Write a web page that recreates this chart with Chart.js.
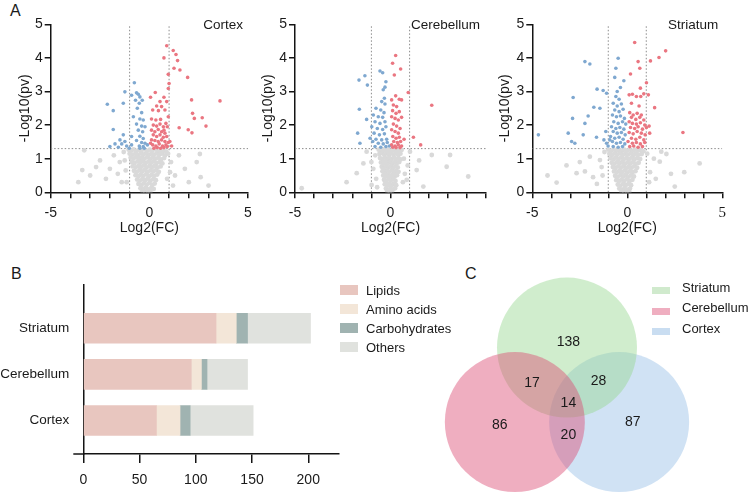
<!DOCTYPE html>
<html>
<head>
<meta charset="utf-8">
<script src="https://cdn.jsdelivr.net/npm/chart.js@4.4.1/dist/chart.umd.min.js"></script>
<style>
  body { margin: 0; width: 752px; height: 495px; background: #fff; position: relative; overflow: hidden;
         font-family: 'Liberation Sans', Arial, sans-serif; color: #1a1a1a; }
  canvas { position: absolute; }
  .panel { position: absolute; font-size: 16px; line-height: 16px; }
  .swatch { position: absolute; width: 18px; }
  .lbl { position: absolute; font-size: 13px; line-height: 15px; white-space: nowrap; }
</style>
</head>
<body>
<div class="panel" style="left:10px;top:3px">A</div>
<div class="panel" style="left:11px;top:266px">B</div>
<div class="panel" style="left:465px;top:266px">C</div>

<canvas id="volcanoCortex" width="260" height="240" style="left:0;top:0"></canvas>
<canvas id="volcanoCerebellum" width="250" height="240" style="left:245px;top:0"></canvas>
<canvas id="volcanoStriatum" width="250" height="240" style="left:482px;top:0"></canvas>
<canvas id="barChart" width="345" height="225" style="left:0;top:270px"></canvas>
<canvas id="vennChart" width="322" height="240" style="left:430px;top:255px"></canvas>

<div id="barLegend"></div>
<div id="vennLegend"></div>

<script>
// === Volcano data: [log2FC, -log10(p)] ===
const cortexUp = [[0.88,4.36],[1.21,4.22],[1.35,4.10],[0.74,4.00],[1.43,3.92],[1.25,3.69],[1.55,3.64],[0.96,3.51],[1.94,3.42],[3.58,2.72],[2.14,2.75],[0.06,2.83],[0.30,2.97],[1.00,3.24],[0.96,3.09],[0.74,2.83],[0.88,2.70],[0.54,2.70],[0.37,2.57],[0.62,2.55],[0.79,2.45],[0.17,2.45],[0.46,2.43],[0.96,2.25],[0.11,2.18],[0.33,2.15],[0.57,2.17],[2.19,2.35],[2.28,2.20],[2.68,2.22],[2.87,1.97],[1.51,1.92],[2.16,1.77],[1.97,1.86],[0.91,1.95],[0.74,1.85],
  [0.20,2.00],[0.37,1.97],[0.54,2.03],[0.71,1.95],[0.84,2.05],[0.11,1.85],[0.28,1.80],[0.45,1.87],[0.62,1.80],[0.79,1.76],[0.20,1.71],[0.37,1.66],[0.54,1.71],[0.71,1.64],[0.88,1.66],[0.11,1.56],[0.28,1.54],[0.45,1.51],[0.62,1.56],[0.79,1.51],[0.96,1.48],[0.17,1.41],[0.33,1.38],[0.50,1.44],[0.67,1.38],[0.84,1.41],[0.06,1.46],[0.23,1.31],[0.40,1.33],[0.57,1.31],[0.74,1.33],[0.91,1.36],[1.13,1.38],[1.04,1.51]];
const cortexDown = [[-0.76,3.26],[-1.24,2.99],[-0.90,2.89],[-0.65,2.96],[-0.56,2.92],[-0.48,2.84],[-2.13,2.62],[-1.32,2.65],[-0.70,2.74],[-0.51,2.65],[-0.36,2.74],[-1.83,2.43],[-0.61,2.50],[-0.39,2.37],[-0.81,2.25],[-0.48,2.18],[-0.31,2.15],[-1.83,1.87],[-0.65,2.03],[-0.39,1.97],[-0.22,1.95],[-0.56,1.85],[-0.34,1.80],[-1.32,1.71],[-0.90,1.66],[-0.48,1.67],[-0.31,1.60],[-1.49,1.56],[-0.65,1.54],[-0.39,1.48],[-0.22,1.46],[-1.74,1.44],[-1.40,1.44],[-1.15,1.38],[-0.90,1.41],[-0.51,1.38],[-0.31,1.36],[-0.10,1.41],[-1.57,1.34],[-1.02,1.31],[-0.48,1.31],[-0.26,1.31],[-2.0,1.36],[-1.24,1.51]];
const cortexGrey = [[-1.05,1.27],[-0.92,1.24],[-0.8,1.28],[-0.66,1.22],[-0.52,1.27],[-0.4,1.25],[-0.27,1.28],[-0.12,1.23],[0.02,1.27],[0.15,1.24],[0.3,1.28],[0.44,1.22],[0.58,1.26],[0.72,1.24],[0.86,1.21],
  [-1.0,1.15],[-0.85,1.12],[-0.7,1.16],[-0.56,1.11],[-0.43,1.17],[-0.3,1.13],[-0.16,1.16],[-0.03,1.11],[0.1,1.15],[0.23,1.12],[0.37,1.16],[0.5,1.12],[0.64,1.15],[0.8,1.1],
  [-0.95,1.03],[-0.8,1.0],[-0.66,1.05],[-0.52,0.99],[-0.38,1.04],[-0.24,1.0],[-0.1,1.05],[0.04,0.99],[0.18,1.04],[0.32,1.0],[0.46,1.03],[0.6,0.98],[0.75,1.02],
  [-0.9,0.9],[-0.75,0.87],[-0.6,0.92],[-0.46,0.88],[-0.33,0.93],[-0.19,0.87],[-0.05,0.91],[0.09,0.88],[0.23,0.92],[0.37,0.87],[0.52,0.9],[0.66,0.86],
  [-0.85,0.77],[-0.7,0.74],[-0.55,0.79],[-0.42,0.75],[-0.28,0.8],[-0.14,0.74],[0.0,0.78],[0.14,0.75],[0.28,0.79],[0.42,0.74],[0.57,0.77],
  [-0.78,0.64],[-0.63,0.61],[-0.5,0.66],[-0.36,0.62],[-0.22,0.67],[-0.08,0.61],[0.06,0.65],[0.2,0.62],[0.34,0.66],[0.48,0.61],
  [-0.7,0.51],[-0.56,0.48],[-0.43,0.53],[-0.3,0.49],[-0.16,0.54],[-0.02,0.48],[0.12,0.52],[0.26,0.49],[0.4,0.53],
  [-0.62,0.38],[-0.48,0.35],[-0.35,0.4],[-0.22,0.36],[-0.08,0.41],[0.06,0.35],[0.2,0.39],[0.33,0.36],
  [-0.55,0.25],[-0.4,0.22],[-0.27,0.27],[-0.13,0.23],[0.0,0.28],[0.14,0.22],[0.27,0.26],
  [-0.45,0.12],[-0.3,0.1],[-0.17,0.14],[-0.03,0.09],[0.1,0.13],[0.22,0.1],
  [-0.35,0.03],[-0.2,0.02],[-0.07,0.04],[0.05,0.02],
  [-3.3,1.25],[-3.4,0.66],[-3.0,0.5],[-2.7,0.75],[-2.5,0.95],[-2.2,0.4],[-2.0,0.7],[-1.8,1.1],[-1.6,0.55],[-1.5,0.9],[-1.4,0.3],[-1.3,1.2],[-1.2,0.65],[-1.25,0.95],[-1.15,0.3],[1.1,0.9],[1.3,0.5],[1.5,1.1],[1.8,0.7],[2.0,0.3],[2.4,0.9],[2.6,0.45],[3.0,0.2],[1.2,0.2],[0.95,1.15],[2.56,1.14],[1.05,0.6],[0.9,0.4],[-3.6,0.3]];

const cerebellumUp = [[0.27,4.07],[0.11,3.84],[0.53,3.67],[0.20,3.49],[0.93,2.97],[2.16,2.59],[0.27,2.87],[0.46,2.77],[0.06,2.75],[0.58,2.75],[0.15,2.60],[0.32,2.55],[0.11,2.43],[0.29,2.35],[0.46,2.40],[0.06,2.25],[0.24,2.20],[0.41,2.15],[0.58,2.23],[0.15,2.03],[0.32,1.97],[0.50,1.90],[0.06,1.86],[0.24,1.81],[0.41,1.76],[0.12,1.66],[0.29,1.61],[0.46,1.64],[0.17,1.51],[0.36,1.48],[0.53,1.51],[0.06,1.41],[0.24,1.38],[0.41,1.41],[0.58,1.38],[0.12,1.34],[0.29,1.33],[0.50,1.33],[1.20,1.64],[1.58,1.41],[0.71,1.58]];
const cerebellumDown = [[-1.65,3.34],[-1.34,3.47],[-1.21,3.19],[-0.55,3.61],[-0.41,3.56],[-0.24,3.29],[-0.29,3.13],[-0.38,3.05],[-0.32,2.80],[-0.46,2.70],[-0.29,2.63],[-1.63,2.47],[-0.76,2.50],[-0.51,2.45],[-0.34,2.37],[-0.90,2.30],[-0.64,2.25],[-0.41,2.23],[-1.25,2.17],[-0.81,2.10],[-0.55,2.05],[-0.29,2.10],[-0.98,1.95],[-0.69,1.90],[-0.41,1.87],[-0.24,1.95],[-1.72,1.76],[-0.86,1.76],[-0.58,1.71],[-0.32,1.74],[-1.07,1.61],[-0.76,1.58],[-0.46,1.56],[-0.20,1.58],[-0.93,1.51],[-0.64,1.46],[-0.38,1.44],[-0.17,1.48],[-1.60,1.46],[-0.81,1.36],[-0.51,1.34],[-0.24,1.36],[-0.06,1.38]];
const cerebellumGrey = [[-0.62,1.27],[-0.5,1.23],[-0.38,1.28],[-0.26,1.24],[-0.14,1.27],[-0.02,1.22],[0.1,1.27],[0.22,1.24],[0.34,1.28],[0.46,1.23],[0.58,1.26],
  [-0.58,1.14],[-0.45,1.17],[-0.33,1.12],[-0.2,1.16],[-0.08,1.11],[0.04,1.16],[0.16,1.12],[0.28,1.17],[0.4,1.12],[0.52,1.15],
  [-0.55,1.02],[-0.42,0.99],[-0.3,1.04],[-0.18,0.98],[-0.06,1.03],[0.06,0.99],[0.18,1.04],[0.3,0.99],[0.42,1.02],[0.54,0.98],
  [-0.5,0.89],[-0.38,0.86],[-0.26,0.91],[-0.14,0.87],[-0.02,0.91],[0.1,0.86],[0.22,0.9],[0.34,0.87],[0.46,0.9],
  [-0.46,0.76],[-0.34,0.73],[-0.22,0.78],[-0.1,0.74],[0.02,0.78],[0.14,0.73],[0.26,0.77],[0.38,0.74],
  [-0.42,0.63],[-0.3,0.6],[-0.18,0.65],[-0.06,0.61],[0.06,0.65],[0.18,0.6],[0.3,0.64],[0.42,0.61],
  [-0.38,0.5],[-0.26,0.47],[-0.14,0.52],[-0.02,0.48],[0.1,0.52],[0.22,0.47],[0.34,0.51],
  [-0.34,0.37],[-0.22,0.34],[-0.1,0.39],[0.02,0.35],[0.14,0.39],[0.26,0.34],
  [-0.3,0.24],[-0.18,0.21],[-0.06,0.26],[0.06,0.22],[0.18,0.25],[0.3,0.21],
  [-0.24,0.11],[-0.12,0.08],[0.0,0.12],[0.12,0.09],[0.24,0.12],
  [-0.16,0.03],[-0.04,0.02],[0.08,0.04],
  [4.07,0.47],[2.94,0.76],[3.12,1.11],[2.16,1.11],[-1.77,0.57],[-1.42,0.86],[-4.65,0.12],[-1.25,1.21],[1.02,1.21],[1.37,0.66],[0.85,0.37],[-0.99,0.22],[1.72,0.17],[-0.8,1.1],[-0.9,0.7],[-0.75,0.4],[0.7,1.0],[0.75,0.55],[0.65,0.3],[-1.0,0.9],[0.9,0.8],[-0.7,0.15],[-2.3,0.3],[1.5,0.95]];

const striatumUp = [[0.39,4.46],[2.02,4.21],[1.67,4.01],[1.22,3.91],[0.57,3.89],[0.66,3.69],[0.17,3.52],[1.01,3.26],[0.69,3.10],[0.87,2.93],[0.10,2.90],[0.27,2.92],[0.48,2.85],[0.71,2.85],[1.11,2.90],[1.44,2.52],[2.93,1.78],[0.22,2.65],[0.62,2.57],
  [0.13,2.37],[0.31,2.30],[0.52,2.35],[0.74,2.30],[0.22,2.23],[0.45,2.17],[0.66,2.23],[0.87,2.15],[0.10,2.10],[0.27,2.05],[0.48,2.03],[0.69,2.07],[0.92,2.00],[0.17,1.93],[0.39,1.90],[0.57,1.95],[0.80,1.88],[1.01,1.93],[0.10,1.78],[0.31,1.74],[0.52,1.81],[0.74,1.76],[0.94,1.71],[0.22,1.61],[0.45,1.58],[0.66,1.64],[0.87,1.56],[0.04,1.51],[0.27,1.46],[0.48,1.48],[0.69,1.44],[0.92,1.48],[0.13,1.36],[0.34,1.38],[0.57,1.34],[0.80,1.36],[1.15,1.97],[1.18,1.76]];
const striatumDown = [[-0.48,3.99],[-2.23,3.89],[-1.97,3.82],[-0.60,3.69],[-0.66,3.42],[-0.18,3.32],[-2.85,2.82],[-1.59,3.07],[-1.27,3.03],[-1.09,2.95],[-0.53,3.00],[-0.36,3.12],[-1.76,2.53],[-1.44,2.50],[-2.06,2.27],[-2.88,2.20],[-2.23,2.05],[-3.11,1.76],[-2.32,1.71],[-4.68,1.71],[-2.93,1.51],[-2.76,1.46],[-1.62,1.64],[-1.13,1.81],[-1.23,1.56],
  [-0.60,2.85],[-0.43,2.77],[-0.74,2.65],[-0.53,2.57],[-0.31,2.63],[-0.66,2.45],[-0.43,2.40],[-0.22,2.47],[-0.78,2.30],[-0.57,2.25],[-0.36,2.27],[-0.15,2.20],[-0.71,2.10],[-0.48,2.05],[-0.25,2.10],[-0.08,2.03],[-0.83,1.95],[-0.60,1.90],[-0.39,1.93],[-0.18,1.88],[-0.74,1.81],[-0.53,1.76],[-0.31,1.78],[-0.11,1.71],[-0.88,1.66],[-0.66,1.61],[-0.43,1.64],[-0.22,1.58],[-0.78,1.51],[-0.57,1.46],[-0.36,1.48],[-0.13,1.44],[-1.01,1.38],[-0.74,1.36],[-0.48,1.34],[-0.25,1.36],[-1.09,1.46],[-0.92,1.56]];
const striatumGrey = [[-1.0,1.27],[-0.86,1.23],[-0.72,1.28],[-0.58,1.24],[-0.44,1.27],[-0.3,1.22],[-0.16,1.27],[-0.02,1.24],[0.12,1.28],[0.26,1.23],[0.4,1.27],[0.54,1.24],[0.68,1.26],[0.85,1.22],
  [-0.94,1.14],[-0.8,1.11],[-0.66,1.16],[-0.52,1.12],[-0.38,1.17],[-0.24,1.11],[-0.1,1.15],[0.04,1.12],[0.18,1.16],[0.32,1.11],[0.46,1.15],[0.6,1.12],[0.76,1.14],
  [-0.88,1.01],[-0.74,0.98],[-0.6,1.03],[-0.46,0.99],[-0.32,1.04],[-0.18,0.98],[-0.04,1.02],[0.1,0.99],[0.24,1.03],[0.38,0.98],[0.52,1.02],[0.68,0.99],
  [-0.82,0.88],[-0.68,0.85],[-0.54,0.9],[-0.4,0.86],[-0.26,0.91],[-0.12,0.85],[0.02,0.89],[0.16,0.86],[0.3,0.9],[0.44,0.85],[0.6,0.88],
  [-0.76,0.75],[-0.62,0.72],[-0.48,0.77],[-0.34,0.73],[-0.2,0.78],[-0.06,0.72],[0.08,0.76],[0.22,0.73],[0.36,0.77],[0.52,0.73],
  [-0.7,0.62],[-0.56,0.59],[-0.42,0.64],[-0.28,0.6],[-0.14,0.65],[0.0,0.59],[0.14,0.63],[0.28,0.6],[0.43,0.63],
  [-0.64,0.49],[-0.5,0.46],[-0.36,0.51],[-0.22,0.47],[-0.08,0.52],[0.06,0.46],[0.2,0.5],[0.35,0.47],
  [-0.58,0.36],[-0.44,0.33],[-0.3,0.38],[-0.16,0.34],[-0.02,0.39],[0.12,0.33],[0.27,0.37],
  [-0.5,0.23],[-0.36,0.2],[-0.22,0.25],[-0.08,0.21],[0.06,0.25],[0.2,0.21],
  [-0.42,0.11],[-0.28,0.08],[-0.14,0.12],[0.0,0.08],[0.14,0.11],
  [-0.3,0.03],[-0.16,0.02],[-0.02,0.04],[0.1,0.02],
  [-3.72,0.29],[-2.23,0.62],[-2.67,0.57],[-1.97,1.06],[-1.44,0.96],[-1.3,0.5],[-1.6,0.25],[-2.5,0.9],[-3.2,0.8],[-1.2,1.2],[-1.35,0.75],[-1.8,0.45],[1.71,0.91],[2.5,0.17],[3.81,0.86],[1.79,1.21],[2.06,1.14],[1.2,0.6],[1.4,1.0],[1.15,0.3],[2.3,0.55],[1.5,0.4],[3.0,0.6],[1.05,1.15],[-4.2,0.5]];

const fcCut = 1;      // |log2FC| line
const pCut = 1.3;     // -log10(0.05)

// === Bar data (panel B) ===
const barCategories = ['Striatum', 'Cerebellum', 'Cortex'];
const barLipids = [118, 96, 65];
const barAminoAcids = [18, 9, 21];
const barCarbohydrates = [10, 5, 9];
const barOthers = [56, 36, 56];
const barSeriesNames = ['Lipids', 'Amino acids', 'Carbohydrates', 'Others'];
const barColors = ['#e8c6bf', '#f3e6d8', '#a0b3b1', '#e0e2de'];

// === Venn data (panel C) ===
const vennSets = ['Striatum', 'Cerebellum', 'Cortex'];
const vennColors = ['rgba(150,215,145,0.45)', 'rgba(220,75,115,0.45)', 'rgba(150,190,230,0.45)'];
const vennLegendColors = ['#d0eacd', '#efaec0', '#c9ddf1'];
const vennCounts = [138, 86, 87, 17, 28, 20, 14]; // S, Cb, Cx, S+Cb, S+Cx, Cb+Cx, all

Chart.defaults.font.family = "'Liberation Sans', Arial, sans-serif";
Chart.defaults.color = '#1a1a1a';

const axisColor = '#141414';

// === Volcano plots ===
function drawVolcano(canvasId, grey, down, up, name, shownX, lay) {
  const toPoints = list => list.map(p => ({ x: p[0], y: p[1] }));
  const dots = (list, color, r) => ({
    data: toPoints(list),
    backgroundColor: color,
    borderColor: color,
    pointRadius: r,
    pointHoverRadius: r,
    pointBorderWidth: 0
  });
  const cutLine = list => ({
    type: 'line',
    data: toPoints(list),
    borderColor: '#8c8c8c',
    borderWidth: 1,
    borderDash: [1.5, 2],
    pointRadius: 0,
    fill: false
  });

  return new Chart(document.getElementById(canvasId), {
    type: 'scatter',
    data: {
      datasets: [
        dots(up, '#ea7681', 1.8),
        dots(down, '#7fa8d0', 1.8),
        dots(grey, '#d9d9d9', 2.4),
        cutLine([[-fcCut, 0], [-fcCut, 5]]),
        cutLine([[fcCut, 0], [fcCut, 5]]),
        cutLine([[-5, pCut], [5, pCut]])
      ]
    },
    options: {
      responsive: false,
      animation: false,
      layout: { padding: { left: 0, top: 24.3, right: lay.right, bottom: 0 } },
      plugins: { legend: { display: false }, tooltip: { enabled: false } },
      scales: {
        x: {
          type: 'linear', min: -5, max: 5,
          afterFit: s => { s.height = 47.7; },
          ticks: {
            stepSize: 1, autoSkip: false, maxRotation: 0, padding: 6,
            callback: v => shownX.includes(v) ? String(v) : '',
            font: ctx => (lay.serifFive && ctx.tick && ctx.tick.value === 5)
              ? { family: "'Liberation Serif', serif", size: 15 } : { size: 14 }
          },
          grid: { drawOnChartArea: false, tickLength: 6, color: axisColor, lineWidth: 1.5 },
          border: { color: axisColor, width: 1.5 },
          title: { display: true, text: 'Log2(FC)', font: { size: 14 }, padding: { top: 0, bottom: 3.6 } }
        },
        y: {
          type: 'linear', min: 0, max: 5,
          afterFit: s => { s.width = lay.axisWidth; },
          ticks: { stepSize: 1, padding: 2, font: { size: 14 } },
          grid: { drawOnChartArea: false, tickLength: 6, color: axisColor, lineWidth: 1.5 },
          border: { color: axisColor, width: 1.5 },
          title: { display: true, text: '-Log10(pv)', font: { size: 14 }, padding: { top: lay.titlePad, bottom: 0 } }
        }
      }
    },
    plugins: [{
      id: 'panelName',
      afterDraw(chart) {
        const { ctx, chartArea } = chart;
        ctx.save();
        ctx.font = "13.5px 'Liberation Sans', Arial, sans-serif";
        ctx.fillStyle = '#1a1a1a';
        ctx.textAlign = 'right';
        ctx.textBaseline = 'middle';
        ctx.fillText(name, chartArea.right - lay.nameGap, chartArea.top + 1);
        ctx.restore();
      }
    }]
  });
}

drawVolcano('volcanoCortex', cortexGrey, cortexDown, cortexUp, 'Cortex', [-5, 0, 5],
  { right: 12, axisWidth: 50.7, titlePad: 16.6, nameGap: 5 });
drawVolcano('volcanoCerebellum', cerebellumGrey, cerebellumDown, cerebellumUp, 'Cerebellum', [-5, 0],
  { right: 9, axisWidth: 50, titlePad: 14.9, nameGap: 6 });
drawVolcano('volcanoStriatum', striatumGrey, striatumDown, striatumUp, 'Striatum', [-5, 0, 5],
  { right: 9.3, axisWidth: 50.3, titlePad: 14.6, nameGap: 4, serifFive: true });

// === Stacked bars (panel B) ===
const barValues = [barLipids, barAminoAcids, barCarbohydrates, barOthers];

const axisStub = {
  id: 'axisStub',
  afterDraw(chart) {
    const { ctx, chartArea } = chart;
    ctx.save();
    ctx.strokeStyle = axisColor;
    ctx.lineWidth = 1.5;
    ctx.beginPath();
    ctx.moveTo(chartArea.left - 10, chartArea.bottom);
    ctx.lineTo(chartArea.left, chartArea.bottom);
    ctx.stroke();
    ctx.restore();
  }
};

new Chart(document.getElementById('barChart'), {
  type: 'bar',
  data: {
    datasets: barSeriesNames.map((label, k) => ({
      label: label,
      data: barValues[k].map((v, i) => ({ x: v, y: i + 1 })),
      backgroundColor: barColors[k],
      borderWidth: 0,
      barThickness: 30
    }))
  },
  options: {
    indexAxis: 'y',
    responsive: false,
    animation: false,
    layout: { padding: { left: 0, top: 15, right: 6.7, bottom: 0 } },
    plugins: { legend: { display: false }, tooltip: { enabled: false } },
    scales: {
      x: {
        type: 'linear', stacked: true, min: 0, max: 226.7,
        afterFit: s => { s.height = 41; },
        ticks: { stepSize: 50, includeBounds: false, padding: 8.6, maxRotation: 0, font: { size: 14 } },
        grid: { drawOnChartArea: false, tickLength: 9, color: axisColor, lineWidth: 1.5 },
        border: { color: axisColor, width: 1.5 }
      },
      y: {
        type: 'linear', stacked: true, reverse: true, offset: false, min: 0.061, max: 3.727,
        // labels sit well inside the axis, so no edge padding is needed
        afterFit: s => { s.width = 83.3; s.paddingTop = 0; s.paddingBottom = 0; },
        afterBuildTicks: s => { s.ticks = barCategories.map((c, i) => ({ value: i + 1 })); },
        ticks: { callback: v => barCategories[v - 1], padding: 14, font: { size: 13.5 } },
        grid: { display: false, drawTicks: false },
        border: { color: axisColor, width: 1.5 }
      }
    }
  },
  plugins: [axisStub]
});

// === Venn (panel C) ===
// layout in circle-radius units; bubble radius in px
const vennRadiusPx = 70;
const vennCenters = [[0, 0.535], [-0.745, -0.53], [0.745, -0.53]];
const vennLabelPos = [[0.02, 0.61], [-0.96, -0.58], [0.94, -0.53], [-0.5, 0.03], [0.45, 0.05], [0.02, -0.71], [0.02, -0.26]];
const vennOrder = [2, 1, 3];

new Chart(document.getElementById('vennChart'), {
  type: 'bubble',
  data: {
    datasets: vennSets.map((name, k) => ({
      label: name,
      data: [{ x: vennCenters[k][0], y: vennCenters[k][1], r: vennRadiusPx }],
      backgroundColor: vennColors[k],
      borderColor: 'rgba(0,0,0,0)',
      borderWidth: 0,
      clip: false,
      order: vennOrder[k]
    }))
  },
  options: {
    responsive: false,
    animation: false,
    events: [],
    layout: { padding: 0, autoPadding: false },
    plugins: { legend: { display: false }, tooltip: { enabled: false } },
    scales: {
      x: { type: 'linear', display: false, min: -1.957, max: 2.643 },
      y: { type: 'linear', display: false, min: -1.571, max: 1.857 }
    }
  },
  plugins: [{
    id: 'vennCounts',
    afterDatasetsDraw(chart) {
      const { ctx, scales } = chart;
      ctx.save();
      ctx.font = "14px 'Liberation Sans', Arial, sans-serif";
      ctx.fillStyle = '#1a1a1a';
      ctx.textAlign = 'center';
      ctx.textBaseline = 'middle';
      vennCounts.forEach((n, i) => {
        ctx.fillText(String(n), scales.x.getPixelForValue(vennLabelPos[i][0]), scales.y.getPixelForValue(vennLabelPos[i][1]));
      });
      ctx.restore();
    }
  }]
});

// === HTML legends ===
function buildLegend(holderId, names, colors, x, top, step, boxH, textX, textShift) {
  const holder = document.getElementById(holderId);
  names.forEach((name, i) => {
    const box = document.createElement('div');
    box.className = 'swatch';
    box.style.left = x + 'px';
    box.style.top = (top + i * step) + 'px';
    box.style.height = boxH + 'px';
    box.style.background = colors[i];
    holder.appendChild(box);
    const txt = document.createElement('div');
    txt.className = 'lbl';
    txt.style.left = textX + 'px';
    txt.style.top = (top + i * step + textShift) + 'px';
    txt.textContent = name;
    holder.appendChild(txt);
  });
}

buildLegend('barLegend', barSeriesNames, barColors, 340, 285, 19, 10, 366, -2.5);
buildLegend('vennLegend', vennSets, vennLegendColors, 652, 287, 20.7, 7, 682, -7.5);
</script>
</body>
</html>
